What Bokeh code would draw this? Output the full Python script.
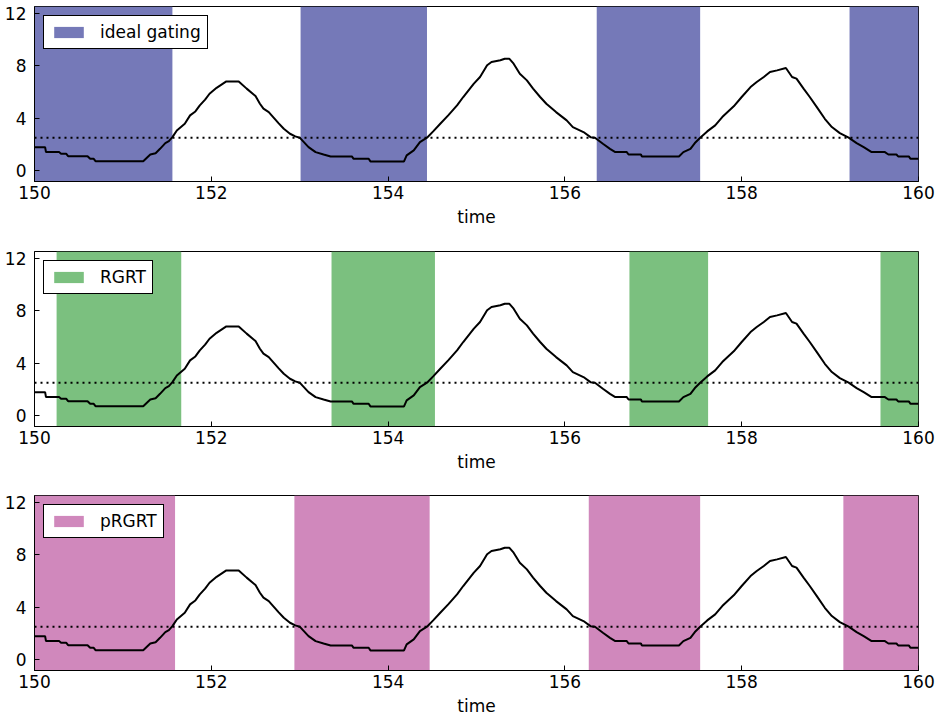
from bokeh.plotting import figure
from bokeh.models import Range1d, FixedTicker, Span
from bokeh.layouts import column
from bokeh.embed import file_html
from bokeh.resources import INLINE

# ---- data ----
time = [150.00, 150.12, 150.13, 150.28, 150.30, 150.36, 150.38, 150.60, 150.63, 150.67,
        150.69, 151.23, 151.31, 151.37, 151.42, 151.48, 151.52, 151.56, 151.61, 151.70,
        151.76, 151.82, 151.87, 151.93, 151.98, 152.06, 152.17, 152.31, 152.40, 152.50,
        152.55, 152.59, 152.65, 152.70, 152.76, 152.82, 152.89, 152.95, 153.00, 153.10,
        153.18, 153.27, 153.35, 153.59, 153.61, 153.78, 153.80, 154.18, 154.21, 154.29,
        154.36, 154.44, 154.51, 154.59, 154.68, 154.78, 154.85, 154.97, 155.04, 155.12,
        155.17, 155.27, 155.32, 155.37, 155.42, 155.49, 155.57, 155.64, 155.72, 155.79,
        155.90, 156.02, 156.09, 156.21, 156.29, 156.34, 156.43, 156.51, 156.57, 156.70,
        156.72, 156.86, 156.87, 157.29, 157.34, 157.42, 157.47, 157.53, 157.61, 157.70,
        157.78, 157.91, 158.00, 158.10, 158.17, 158.25, 158.32, 158.40, 158.50, 158.57,
        158.62, 158.70, 158.77, 158.85, 158.94, 159.02, 159.11, 159.21, 159.30, 159.38,
        159.47, 159.62, 159.66, 159.75, 159.77, 159.89, 159.91, 160.00]
signal = [1.78, 1.78, 1.40, 1.40, 1.27, 1.27, 1.09, 1.09, 0.89, 0.89,
          0.71, 0.71, 1.22, 1.32, 1.65, 2.09, 2.24, 2.54, 3.05, 3.56,
          4.20, 4.50, 4.96, 5.40, 5.85, 6.30, 6.79, 6.79, 6.24, 5.67,
          5.09, 4.71, 4.45, 4.07, 3.61, 3.18, 2.80, 2.60, 2.50, 1.78,
          1.40, 1.22, 1.07, 1.07, 0.89, 0.89, 0.69, 0.69, 1.15, 1.53,
          2.16, 2.50, 2.98, 3.56, 4.20, 4.96, 5.60, 6.62, 7.13, 8.02,
          8.27, 8.40, 8.52, 8.52, 8.14, 7.38, 6.87, 6.24, 5.60, 5.09,
          4.45, 3.82, 3.31, 2.93, 2.54, 2.50, 2.04, 1.65, 1.40, 1.40,
          1.22, 1.22, 1.07, 1.07, 1.40, 1.65, 2.09, 2.50, 2.98, 3.44,
          4.07, 4.89, 5.60, 6.36, 6.74, 7.13, 7.51, 7.63, 7.81, 7.13,
          7.00, 6.24, 5.60, 4.83, 3.94, 3.31, 2.85, 2.50, 2.09, 1.78,
          1.40, 1.40, 1.22, 1.22, 1.07, 1.07, 0.89, 0.89]
threshold = 2.5

ideal_starts = [150.00, 153.01, 156.36, 159.22]
ideal_ends = [151.56, 154.44, 157.53, 160.00]
rgrt_starts = [150.25, 153.36, 156.73, 159.57]
rgrt_ends = [151.66, 154.53, 157.62, 160.00]
prgrt_starts = [150.00, 152.94, 156.27, 159.15]
prgrt_ends = [151.59, 154.47, 157.53, 160.00]

x_ticks = [150, 152, 154, 156, 158, 160]
y_ticks = [0, 4, 8, 12]
x_lim = (150, 160)
y_lim = (-0.84, 12.5)

FONT = "DejaVu Sans"
FS = "17px"


def make_panel(starts, ends, color, label, height, top_border, bottom_border):
    p = figure(width=935, height=height, x_range=Range1d(*x_lim), y_range=Range1d(*y_lim),
               output_backend="svg", toolbar_location=None,
               min_border_left=34, min_border_right=17,
               min_border_top=top_border, min_border_bottom=bottom_border)
    p.quad(left=starts, right=ends, bottom=y_lim[0], top=y_lim[1],
           fill_color=color, line_color=None, legend_label=label)
    p.add_layout(Span(location=threshold, dimension="width", line_color="black",
                      line_dash="2 4", line_width=2))
    p.line(time, signal, line_color="black", line_width=2)

    p.grid.visible = False
    p.outline_line_color = "black"
    p.outline_line_alpha = 1
    p.outline_line_width = 1
    p.background_fill_color = "white"

    p.xaxis.ticker = FixedTicker(ticks=x_ticks)
    p.yaxis.ticker = FixedTicker(ticks=y_ticks)
    p.xaxis.axis_label = "time"
    for ax in (p.xaxis, p.yaxis):
        ax.major_tick_in = 5
        ax.major_tick_out = 0
        ax.minor_tick_in = 0
        ax.minor_tick_out = 0
        ax.major_tick_line_color = "black"
        ax.axis_line_color = "black"
        ax.major_label_text_font = FONT
        ax.major_label_text_font_size = FS
        ax.major_label_text_color = "black"
        ax.axis_label_text_font = FONT
        ax.axis_label_text_font_size = FS
        ax.axis_label_text_font_style = "normal"
        ax.axis_label_text_color = "black"
    p.xaxis.major_label_standoff = 4
    p.xaxis.axis_label_standoff = 5
    p.yaxis.major_label_standoff = 8

    lg = p.legend[0]
    lg.location = "top_left"
    lg.margin = 9
    lg.padding = 6
    lg.spacing = 0
    lg.glyph_width = 37
    lg.glyph_height = 14
    lg.label_standoff = 13
    lg.label_text_font = FONT
    lg.label_text_font_size = FS
    lg.label_text_color = "black"
    lg.border_line_color = "black"
    lg.border_line_alpha = 1
    lg.border_line_width = 1
    lg.background_fill_color = "white"
    lg.background_fill_alpha = 1
    return p


p1 = make_panel(ideal_starts, ideal_ends, "#7579b8", "ideal gating", 245, 6, 64)
p2 = make_panel(rgrt_starts, rgrt_ends, "#7bc07f", "RGRT", 244, 6, 63)
p3 = make_panel(prgrt_starts, prgrt_ends, "#d088bc", "pRGRT", 230, 6, 49)

layout = column(p1, p2, p3, spacing=0)
open("out.html", "w").write(file_html(layout, INLINE))
